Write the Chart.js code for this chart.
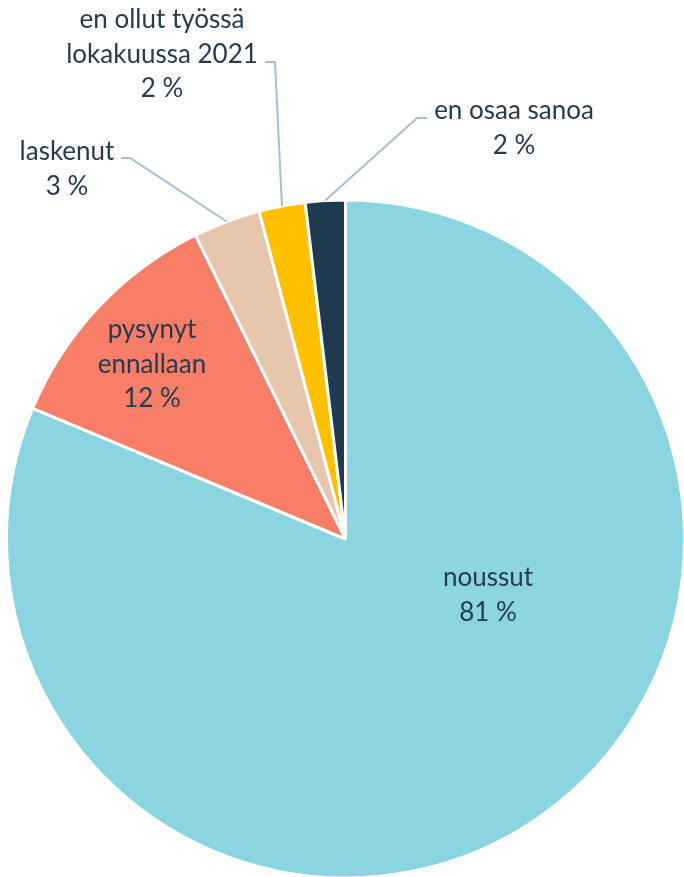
<!DOCTYPE html>
<html>
<head>
<meta charset="utf-8">
<script src="https://cdn.jsdelivr.net/npm/chart.js@4/dist/chart.umd.min.js"></script>
<style>
 html, body { margin: 0; padding: 0; background: #fff; overflow: hidden; }
 #wrap { position: absolute; left: 0; top: 0; width: 686px; height: 880px; }
</style>
</head>
<body>
<div id="wrap"><canvas id="pieChart"></canvas></div>
<script>
var categories = [
 ["noussut"],
 ["pysynyt", "ennallaan"],
 ["laskenut"],
 ["en ollut työssä", "lokakuussa 2021"],
 ["en osaa sanoa"],
];
var shares = [81.3, 11.4, 3.2, 2.2, 1.9];
var shareLabels = ["81 %", "12 %", "3 %", "2 %", "2 %"];

var sliceColors = ["#8AD5E0", "#F87E67", "#E8C6AD", "#FFC000", "#203A4F"];
var textColor = "#263B4F";
var leaderColor = "#A5C0D5";

// where each label block goes (center x, first line y) and, for outside ones, the elbow
var labelLayout = [
 { x: 488, y: 578 },
 { x: 152, y: 330 },
 { x: 67, y: 152, elbowX: 130, elbowY: 158, lineFromX: 121 },
 { x: 162, y: 20, elbowX: 275, elbowY: 62, lineFromX: 265 },
 { x: 514, y: 111, elbowX: 417, elbowY: 118, lineFromX: 427 },
];

var pieLabels = {
 id: "pieLabels",
 afterDatasetsDraw: function (chart) {
  var ctx = chart.ctx;
  var arcs = chart.getDatasetMeta(0).data;
  ctx.save();
  ctx.font = "26px Lato";
  ctx.fillStyle = textColor;
  ctx.textAlign = "center";
  ctx.textBaseline = "middle";
  var lineH = 34.5;
  arcs.forEach(function (arc, i) {
   var pos = labelLayout[i];
   if (pos.elbowX !== undefined) {
    var p = arc.getProps(["x", "y", "startAngle", "endAngle", "outerRadius"], true);
    var mid = (p.startAngle + p.endAngle) / 2;
    var ax = p.x + Math.cos(mid) * p.outerRadius;
    var ay = p.y + Math.sin(mid) * p.outerRadius;
    ctx.strokeStyle = leaderColor;
    ctx.lineWidth = 2;
    ctx.beginPath();
    ctx.moveTo(pos.lineFromX, pos.elbowY);
    ctx.lineTo(pos.elbowX, pos.elbowY);
    ctx.lineTo(ax, ay);
    ctx.stroke();
   }
   var lines = categories[i].concat([shareLabels[i]]);
   lines.forEach(function (t, k) {
    ctx.fillText(t, pos.x, pos.y + k * lineH);
   });
  });
  ctx.restore();
 },
};

new Chart(document.getElementById("pieChart"), {
 type: "pie",
 data: {
  labels: categories.map(function (c) { return c.join(" "); }),
  datasets: [
   {
    data: shares,
    backgroundColor: sliceColors,
    borderColor: "#FFFFFF",
    borderWidth: 3,
    hoverOffset: 0,
   },
  ],
 },
 options: {
  responsive: true,
  maintainAspectRatio: false,
  animation: false,
  layout: { padding: { left: 5, top: 198, right: 0, bottom: 0 } },
  plugins: {
   legend: { display: false },
   tooltip: { enabled: false },
  },
 },
 plugins: [pieLabels],
});
</script>
</body>
</html>
